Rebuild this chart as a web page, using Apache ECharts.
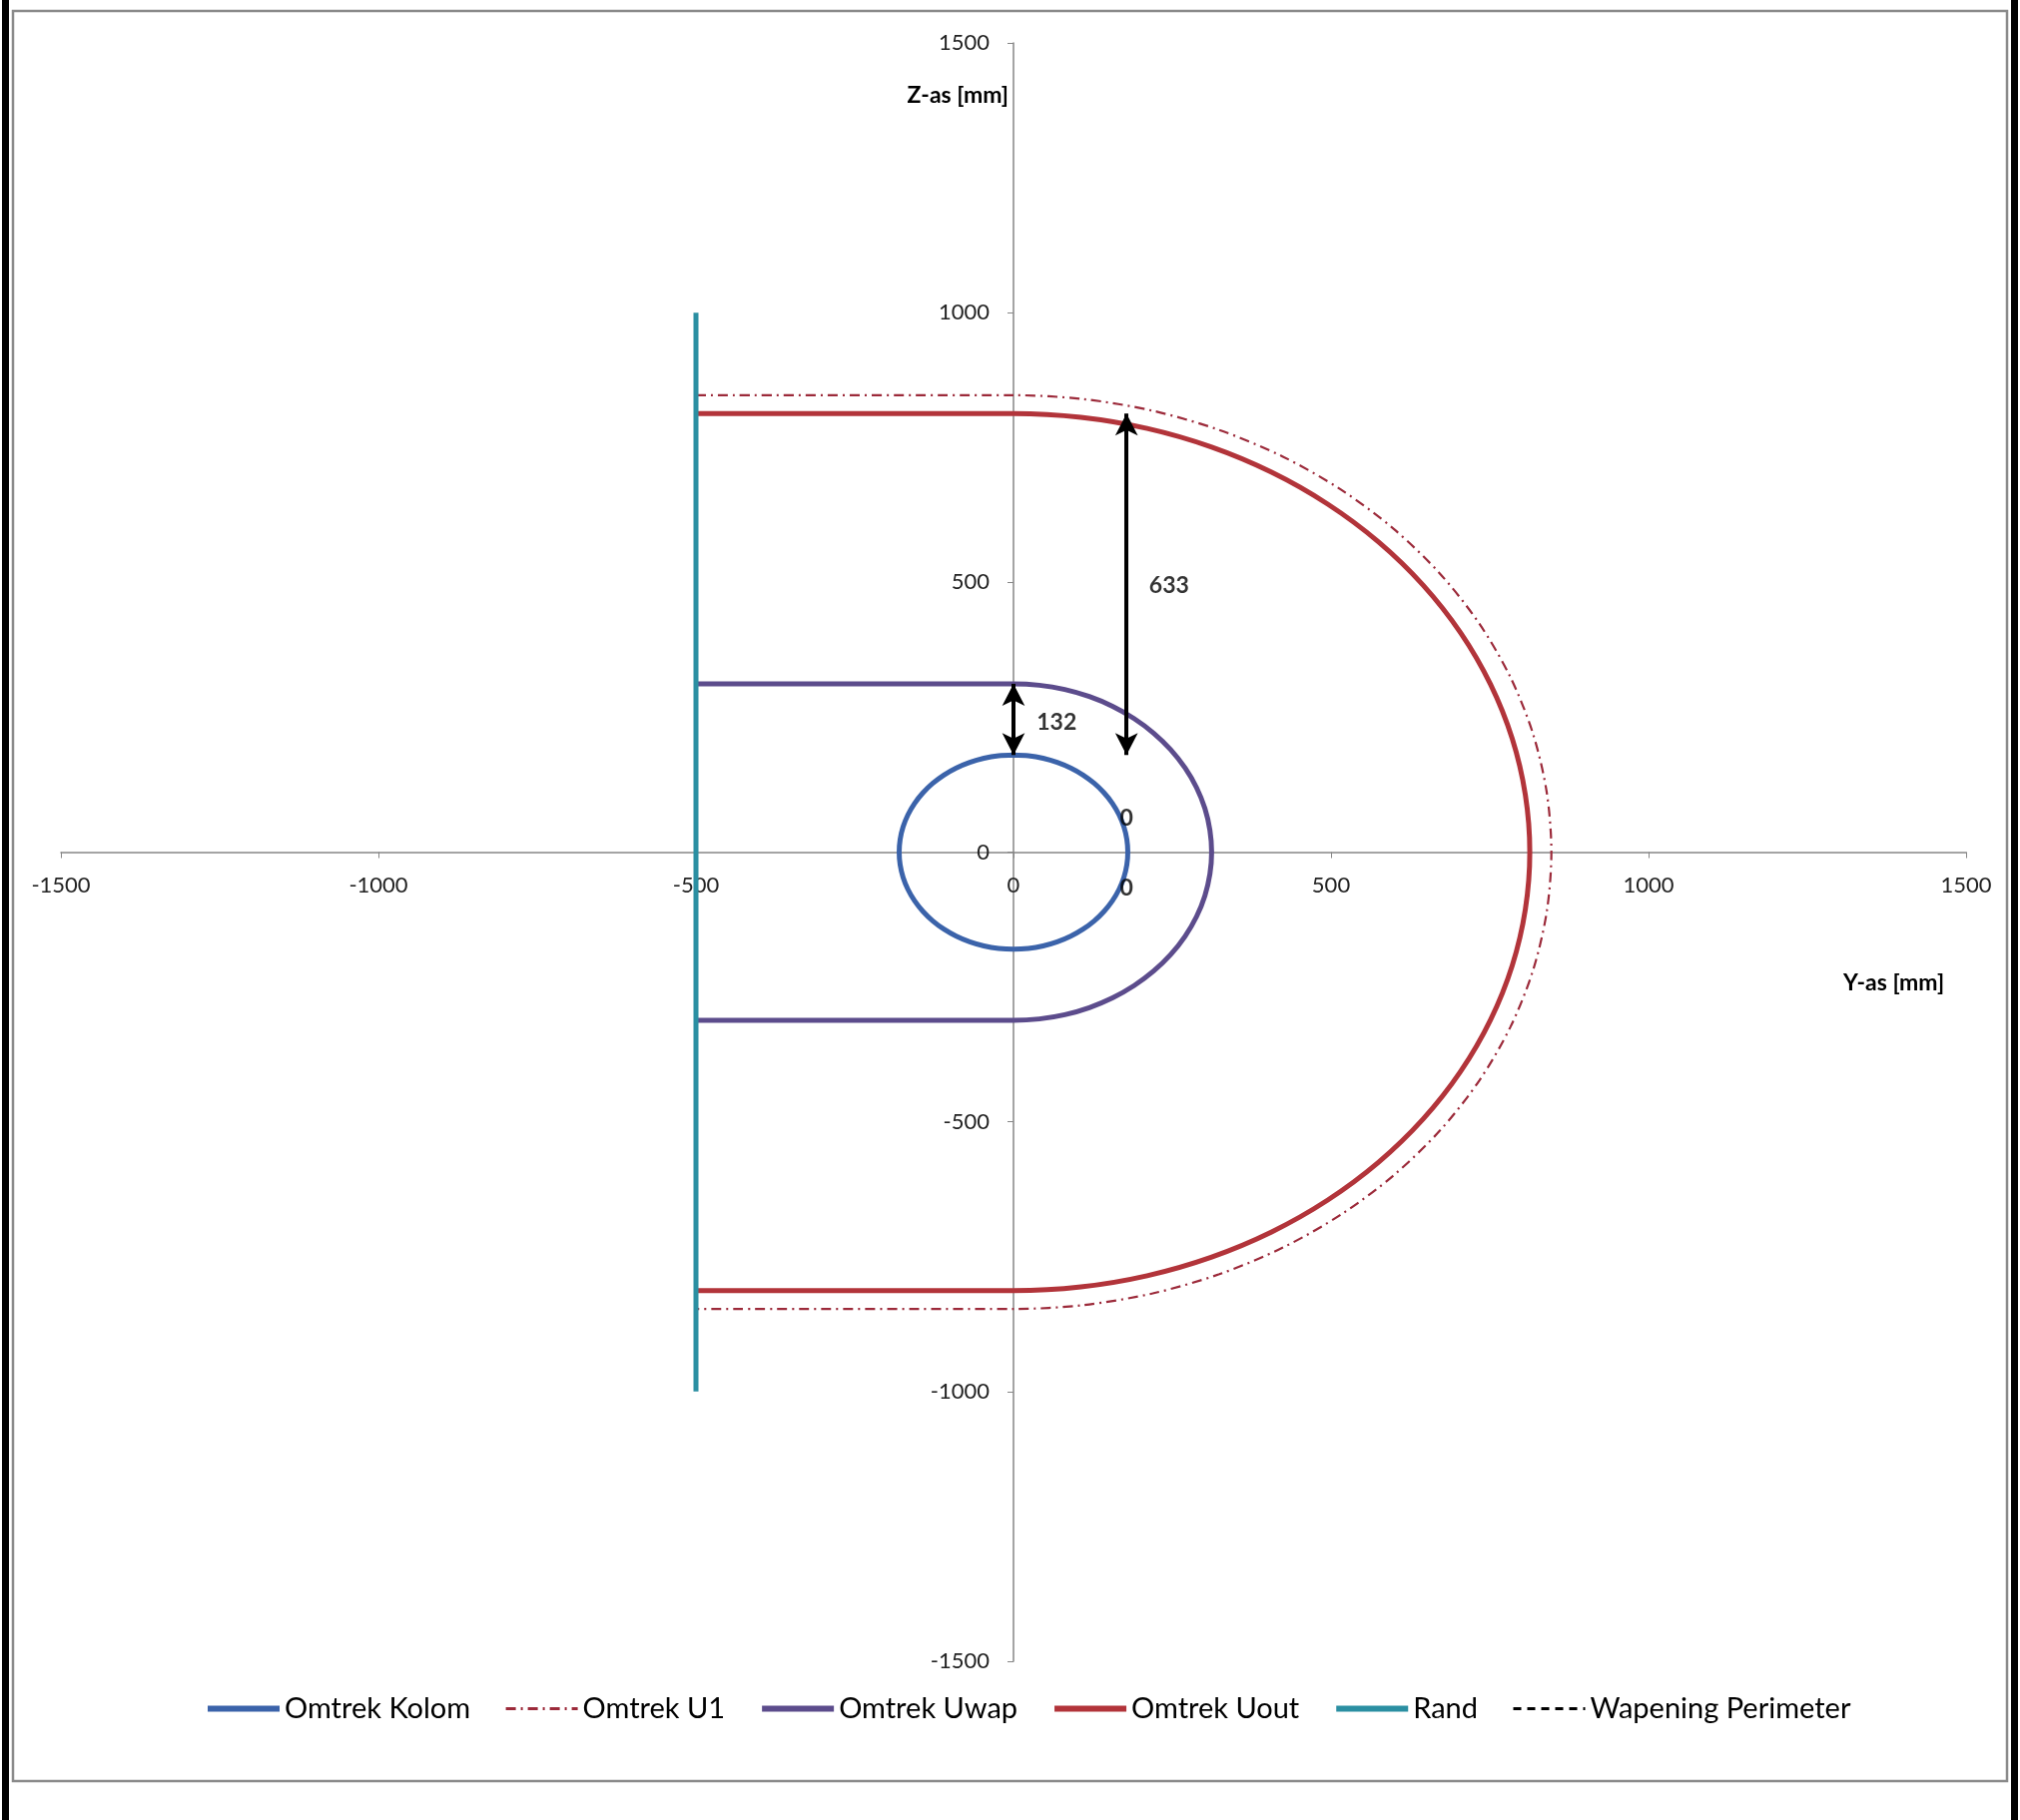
<!DOCTYPE html>
<html lang="nl">

<head>
  <meta charset="UTF-8">
  <title>Pons - omtrekken</title>
  <script src="https://cdn.jsdelivr.net/npm/echarts@6/dist/echarts.min.js"></script>
</head>

<body style="margin:0;background:#fff;">
  <div id="pons" style="width:2023px;height:1823px;"></div>
</body>

</html>
<script type="text/javascript">
  // waarden (Y-as, Z-as in mm)
  let kolom = [[0, 180], [23.5, 178.5], [46.6, 173.9], [68.9, 166.3], [90, 155.9], [109.6, 142.8], [127.3, 127.3],
    [142.8, 109.6], [155.9, 90], [166.3, 68.9], [173.9, 46.6], [178.5, 23.5], [180, 0],
    [178.5, -23.5], [173.9, -46.6], [166.3, -68.9], [155.9, -90], [142.8, -109.6], [127.3, -127.3],
    [109.6, -142.8], [90, -155.9], [68.9, -166.3], [46.6, -173.9], [23.5, -178.5], [0, -180],
    [-23.5, -178.5], [-46.6, -173.9], [-68.9, -166.3], [-90, -155.9], [-109.6, -142.8], [-127.3, -127.3],
    [-142.8, -109.6], [-155.9, -90], [-166.3, -68.9], [-173.9, -46.6], [-178.5, -23.5], [-180, 0],
    [-178.5, 23.5], [-173.9, 46.6], [-166.3, 68.9], [-155.9, 90], [-142.8, 109.6], [-127.3, 127.3],
    [-109.6, 142.8], [-90, 155.9], [-68.9, 166.3], [-46.6, 173.9], [-23.5, 178.5], [0, 180]];
  let u1 = [[-500, 847], [0, 847], [110.6, 839.7], [219.2, 818.1], [324.1, 782.5], [423.5, 733.5], [515.6, 672.0],
    [598.9, 598.9], [672.0, 515.6], [733.5, 423.5], [782.5, 324.1], [818.1, 219.2], [839.7, 110.6], [847, 0],
    [839.7, -110.6], [818.1, -219.2], [782.5, -324.1], [733.5, -423.5], [672.0, -515.6], [598.9, -598.9],
    [515.6, -672.0], [423.5, -733.5], [324.1, -782.5], [219.2, -818.1], [110.6, -839.7], [0, -847], [-500, -847]];
  let uwap = [[-500, 312], [0, 312], [40.7, 309.3], [80.8, 301.4], [119.4, 288.3], [156, 270.2], [189.9, 247.5],
    [220.6, 220.6], [247.5, 189.9], [270.2, 156], [288.3, 119.4], [301.4, 80.8], [309.3, 40.7], [312, 0],
    [309.3, -40.7], [301.4, -80.8], [288.3, -119.4], [270.2, -156], [247.5, -189.9], [220.6, -220.6],
    [189.9, -247.5], [156, -270.2], [119.4, -288.3], [80.8, -301.4], [40.7, -309.3], [0, -312], [-500, -312]];
  let uout = [[-500, 813], [0, 813], [106.1, 806.0], [210.4, 785.3], [311.1, 751.1], [406.5, 704.1], [494.9, 645.0],
    [574.9, 574.9], [645.0, 494.9], [704.1, 406.5], [751.1, 311.1], [785.3, 210.4], [806.0, 106.1], [813, 0],
    [806.0, -106.1], [785.3, -210.4], [751.1, -311.1], [704.1, -406.5], [645.0, -494.9], [574.9, -574.9],
    [494.9, -645.0], [406.5, -704.1], [311.1, -751.1], [210.4, -785.3], [106.1, -806.0], [0, -813], [-500, -813]];
  let rand = [[-500, 1000], [-500, -1000]];
  let wapening = [];
  // maatlijnen met pijlen en hun labels
  let maatLijnen = [[[0, 180], [0, 312]], [[178, 180], [178, 813]]];
  let maatLabels = [[68, 241, '132'], [245, 494, '633'], [178, 62, '0'], [178, -67, '0']];
  let namen = ['Omtrek Kolom', 'Omtrek U1', 'Omtrek Uwap', 'Omtrek Uout', 'Rand', 'Wapening Perimeter'];

  let font = 'Lato';
  let chart = echarts.init(document.getElementById('pons'));

  let stijlen = {};
  function lijn(naam, data, kleur, breedte, type) {
    stijlen[naam] = { color: kleur, width: breedte, type: type || 'solid' };
    return {
      name: naam,
      type: 'line',
      data: data,
      symbol: 'none',
      smooth: 0.3,
      lineStyle: { color: kleur, width: breedte, type: type || 'solid' },
      itemStyle: { color: kleur, opacity: 0 }
    };
  }

  let reeksen = [
    lijn('Omtrek Kolom', kolom, '#3b63aa', 5),
    lijn('Omtrek U1', u1, '#9c2a3a', 2.2, [10, 5, 2, 5]),
    lijn('Omtrek Uwap', uwap, '#5c4c8c', 5),
    lijn('Omtrek Uout', uout, '#b2343a', 5),
    lijn('Rand', rand, '#2b8fa2', 5),
    lijn('Wapening Perimeter', wapening, '#000', 2.5, [8, 6])
  ];

  let gridL = 61, gridR = 54, gridT = 43, gridB = 159;
  let option = {
    animation: false,
    backgroundColor: '#fff',
    textStyle: { fontFamily: font },
    grid: { left: gridL, right: gridR, top: gridT, bottom: gridB, outerBoundsMode: 'none', containLabel: false },
    legend: {
      data: namen.map(function (n) {
        let s = stijlen[n];
        return { name: n, lineStyle: { color: s.color, width: s.width === 5 ? 6 : 3, type: s.type } };
      }),
      bottom: 92,
      left: 200,
      itemWidth: 72,
      itemHeight: 16,
      itemGap: 34,
      textStyle: { fontFamily: font, fontSize: 29, color: '#000' }
    },
    xAxis: {
      type: 'value', min: -1500, max: 1500, interval: 500,
      offset: -(1823 - gridT - gridB) / 2,
      axisLine: { onZero: false, lineStyle: { color: '#868686', width: 1.5 } },
      axisTick: { length: 6, lineStyle: { color: '#868686' } },
      axisLabel: { fontSize: 22, color: '#222', margin: 22, fontFamily: font, formatter: function (v) { return String(v); } },
      splitLine: { show: false }
    },
    yAxis: {
      type: 'value', min: -1500, max: 1500, interval: 500,
      offset: -(2023 - gridL - gridR) / 2,
      axisLine: { onZero: false, lineStyle: { color: '#868686', width: 1.5 } },
      axisTick: { length: 6, lineStyle: { color: '#868686' } },
      axisLabel: { fontSize: 22, color: '#222', margin: 24, fontFamily: font, formatter: function (v) { return String(v); } },
      splitLine: { show: false }
    },
    series: reeksen.concat([
      {
        name: 'maat',
        type: 'scatter',
        data: maatLabels,
        symbolSize: 0,
        z: 5,
        label: {
          show: true,
          position: 'inside',
          formatter: function (p) { return p.value[2]; },
          fontSize: 23, fontWeight: 'bold', color: '#000', fontFamily: font
        },
        markLine: {
          silent: true,
          symbol: ['arrow', 'arrow'],
          symbolSize: [17, 22],
          label: { show: false },
          lineStyle: { color: '#000', width: 4, type: 'solid' },
          data: maatLijnen.map(function (m) { return [{ coord: m[0] }, { coord: m[1] }]; })
        }
      }
    ]),
    graphic: [
      { type: 'text', right: 2023 - 1010, top: 84, style: { text: 'Z-as [mm]', font: 'bold 23px ' + font, fill: '#000' } },
      { type: 'text', left: 1846, top: 973, style: { text: 'Y-as [mm]', font: 'bold 23px ' + font, fill: '#000' } },
      { type: 'rect', shape: { x: 13, y: 11, width: 1997, height: 1773 }, style: { fill: 'none', stroke: '#8a8a8a', lineWidth: 2.5 }, silent: true },
      { type: 'rect', shape: { x: 2, y: 0, width: 7, height: 1823 }, style: { fill: '#000' }, silent: true },
      { type: 'rect', shape: { x: 2014, y: 0, width: 7, height: 1823 }, style: { fill: '#000' }, silent: true }
    ]
  };
  chart.setOption(option);
</script>
